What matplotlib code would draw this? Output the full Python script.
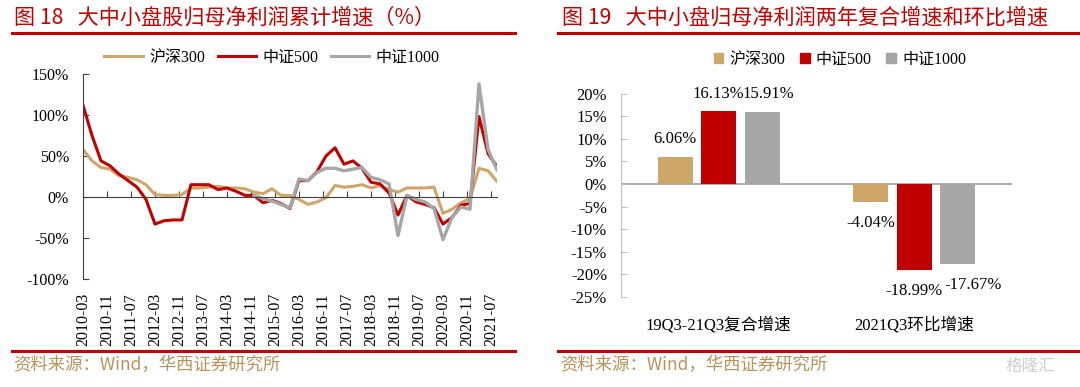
import numpy as np
import matplotlib.pyplot as plt
from matplotlib.lines import Line2D
from matplotlib.patches import Patch

plt.rcParams['font.family'] = ['Liberation Serif', 'Noto Sans CJK SC']

RED = '#C00000'
TAN = '#CFA66A'
GRAY = '#A6A6A6'
SRC = '#B8925A'

# 图18: 季度数据 2010Q1 - 2021Q3 (%)
hs300 = [58, 44, 36, 34, 26, 24, 21, 15, 3, 2,
         2, 3, 11, 11, 12, 13, 11, 11, 10, 6,
         4, 10, 2, 2, -3, -9, -6, -1, 14, 12,
         13, 15, 11, 14, 9, 6, 11, 11, 11, 12,
         -20, -15, -7, -2, 35, 32, 19]
zz500 = [112, 75, 44, 38, 28, 20, 12, -3, -33, -29,
         -28, -28, 15, 15, 15, 9, 11, 7, 2, 2,
         -7, -4, -8, -14, 20, 20, 31, 50, 60, 40,
         44, 35, 18, 16, 5, -22, 2, -6, -9, -13,
         -33, -25, -10, -8, 98, 53, 37]
zz1000 = [np.nan] * 19 + [2, -2, -5, -9, -13, 22, 20, 30, 35, 35,
                          32, 34, 36, 24, 21, 16, -47, 2, -3, -6,
                          -14, -52, -25, -12, -15, 138, 58, 33]
date_labels = ['2010-03', '2010-11', '2011-07', '2012-03', '2012-11', '2013-07',
               '2014-03', '2014-11', '2015-07', '2016-03', '2016-11', '2017-07',
               '2018-03', '2018-11', '2019-07', '2020-03', '2020-11', '2021-07']

# 图19
categories = ['19Q3-21Q3复合增速', '2021Q3环比增速']
hs300_bar = [6.06, -4.04]
zz500_bar = [16.13, -18.99]
zz1000_bar = [15.91, -17.67]
series_names = ['沪深300', '中证500', '中证1000']

W, H = 1080, 387
fig = plt.figure(figsize=(W / 100, H / 100), dpi=100)


def fx(px):
    return px / W


def fy(py):
    return 1 - py / H


# ---- 标题、分隔线、资料来源 ----
for x0, x1 in [(12, 515), (558, 1080)]:
    for yy in [33, 351]:
        fig.add_artist(Line2D([fx(x0), fx(x1)], [fy(yy), fy(yy)], color=RED, lw=2.2))

title_font = ['Noto Sans CJK SC']
fig.text(fx(14), fy(18), '图 18   大中小盘股归母净利润累计增速（%）', color=RED,
         fontsize=15.2, va='center', family=title_font)
fig.text(fx(562), fy(18), '图 19   大中小盘归母净利润两年复合增速和环比增速', color=RED,
         fontsize=15.2, va='center', family=title_font)
for x0 in [13, 560]:
    fig.text(fx(x0), fy(365), '资料来源：Wind，华西证券研究所', color=SRC,
             fontsize=12.5, va='center', family=['Noto Sans CJK SC'])
fig.text(fx(1030), fy(366), '格隆汇', color='#CFCFCF', fontsize=12, va='center',
         ha='center', family=['Noto Sans CJK SC'])

# ---- 左图：折线 ----
ax1 = fig.add_axes([fx(83), fy(279), fx(497 - 83), (279 - 74) / H])
x = np.arange(len(hs300)) * 3  # 月份序号
ax1.plot(x, hs300, color=TAN, lw=2.2, label='沪深300')
ax1.plot(x, zz500, color=RED, lw=2.2, label='中证500')
ax1.plot(x, zz1000, color=GRAY, lw=2.4, label='中证1000')

ax1.set_xlim(0, 138)
ax1.set_ylim(-100, 150)
ax1.set_yticks(np.arange(-100, 151, 50))
ax1.set_yticklabels([f'{v}%' for v in range(-100, 151, 50)], fontsize=11.5)
ax1.tick_params(axis='y', direction='in', length=4, pad=10, color='#404040')
for s in ['top', 'right']:
    ax1.spines[s].set_visible(False)
ax1.spines['left'].set_color('#404040')
ax1.spines['bottom'].set_position(('data', 0))
ax1.spines['bottom'].set_color('#404040')
ticks = np.arange(0, 137, 8)
ax1.set_xticks(ticks)
ax1.tick_params(axis='x', direction='in', length=4, labelbottom=False, color='#404040')

sec = ax1.secondary_xaxis('bottom')
sec.set_xticks(ticks)
sec.set_xticklabels(date_labels, rotation=90, fontsize=11.5)
sec.tick_params(length=0, pad=10)
sec.spines['bottom'].set_visible(False)

h1 = [Line2D([], [], color=c, lw=2.2) for c in [TAN, RED, GRAY]]
fig.legend(h1, series_names, loc='center', bbox_to_anchor=(fx(272), fy(58)), ncol=3,
           frameon=False, fontsize=11.5, handlelength=2.4, handletextpad=0.4,
           columnspacing=0.8)

# ---- 右图：柱状 ----
ax2 = fig.add_axes([fx(621), fy(297), fx(1012 - 621), (297 - 93.5) / H])
pos = np.arange(len(categories))
bw = 0.18
step = 0.222
bars = []
for i, (vals, col) in enumerate(zip([hs300_bar, zz500_bar, zz1000_bar], [TAN, RED, GRAY])):
    b = ax2.bar(pos + (i - 1) * step, vals, width=bw, color=col, zorder=2)
    bars.append(b)

ax2.set_xlim(-0.5, 1.5)
ax2.set_ylim(-25, 20)
ax2.axhline(0, color='#A0A0A0', lw=1.2, zorder=1)
ax2.set_yticks(np.arange(-25, 21, 5))
ax2.set_yticklabels([f'{v}%' for v in range(-25, 21, 5)], fontsize=12)
ax2.tick_params(axis='y', direction='in', length=4, pad=10, color='#BFBFBF')
for s in ['top', 'right', 'bottom']:
    ax2.spines[s].set_visible(False)
ax2.spines['left'].set_color('#BFBFBF')
ax2.set_xticks(pos)
ax2.set_xticklabels(categories, fontsize=12)
ax2.tick_params(axis='x', length=0, pad=14)

# 数据标签 (灰色柱标签略向右错开)
x_shift = [(0, 0), (0, 0), (4.3, 11)]
for i, b in enumerate(bars):
    for j, rect in enumerate(b):
        v = rect.get_height()
        cx = rect.get_x() + rect.get_width() / 2
        dy = 12.6 if v >= 0 else -15.1
        ax2.annotate(f'{v:.2f}%', (cx, v), xytext=(x_shift[i][j], dy),
                     textcoords='offset points', ha='center', va='center', fontsize=12)

h2 = [Patch(color=c) for c in [TAN, RED, GRAY]]
fig.legend(h2, series_names, loc='center', bbox_to_anchor=(fx(840), fy(60)), ncol=3,
           frameon=False, fontsize=11.5, handlelength=0.6, handleheight=0.6,
           handletextpad=0.4, columnspacing=0.9)

fig.savefig('out.png', dpi=100)
